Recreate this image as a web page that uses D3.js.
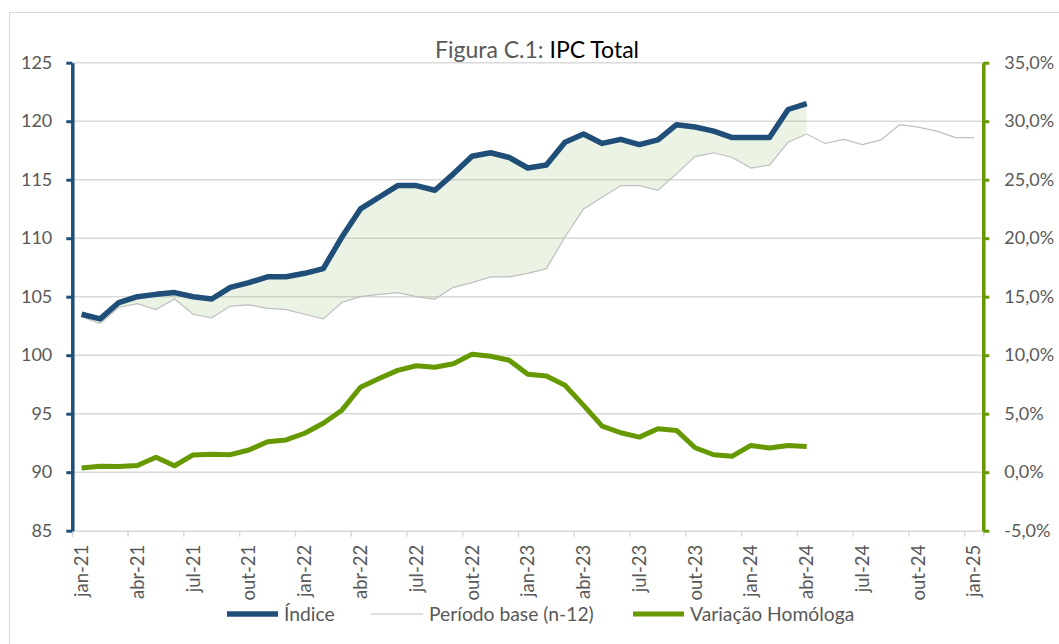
<!DOCTYPE html>
<html><head><meta charset="utf-8">
<script src="https://cdn.jsdelivr.net/npm/d3@7"></script>
<style>
html,body{margin:0;padding:0;background:#fff;}
text{font-family:Lato,"Open Sans",sans-serif;}
</style></head>
<body><svg id="c" width="1059" height="644"></svg>
<script>
// ---- data ----
const months = ["jan-21","fev-21","mar-21","abr-21","mai-21","jun-21","jul-21","ago-21","set-21","out-21","nov-21","dez-21",
"jan-22","fev-22","mar-22","abr-22","mai-22","jun-22","jul-22","ago-22","set-22","out-22","nov-22","dez-22",
"jan-23","fev-23","mar-23","abr-23","mai-23","jun-23","jul-23","ago-23","set-23","out-23","nov-23","dez-23",
"jan-24","fev-24","mar-24","abr-24","mai-24","jun-24","jul-24","ago-24","set-24","out-24","nov-24","dez-24",
"jan-25"];
const tickLabels = ["jan-21","abr-21","jul-21","out-21","jan-22","abr-22","jul-22","out-22","jan-23","abr-23","jul-23","out-23","jan-24","abr-24","jul-24","out-24","jan-25"];
const indice = [103.5,103.1,104.5,105.0,105.2,105.35,105.0,104.8,105.8,106.2,106.7,106.7,
107.0,107.4,110.1,112.5,113.5,114.5,114.5,114.1,115.5,117.0,117.3,116.9,
116.0,116.25,118.2,118.9,118.1,118.45,118.0,118.4,119.7,119.5,119.15,118.6,
118.6,118.6,121.0,121.5];
const periodoBase = [103.3,102.7,104.1,104.4,103.9,104.8,103.5,103.2,104.2,104.3,104.0,103.9,
103.5,103.1,104.5,105.0,105.2,105.35,105.0,104.8,105.8,106.2,106.7,106.7,
107.0,107.4,110.1,112.5,113.5,114.5,114.5,114.1,115.5,117.0,117.3,116.9,
116.0,116.25,118.2,118.9,118.1,118.45,118.0,118.4,119.7,119.5,119.15,118.6,
118.6];
const variacao = [0.35,0.5,0.48,0.58,1.28,0.55,1.48,1.54,1.5,1.9,2.6,2.76,
3.33,4.19,5.3,7.26,8.0,8.7,9.1,8.97,9.27,10.09,9.91,9.57,
8.37,8.23,7.43,5.71,3.94,3.37,3.0,3.72,3.57,2.09,1.49,1.37,
2.29,2.06,2.29,2.2];
const leftTicks = [85,90,95,100,105,110,115,120,125];
const rightTicks = [-5,0,5,10,15,20,25,30,35];

// ---- layout ----
const svg = d3.select("#c");
const L = 72.3, R = 983.3, T = 62.7, B = 530.7;
const blue = "#1f4e79", green = "#669900", grey = "#595959", gridC = "#d9d9d9";
const FONT = "Lato";

svg.append("rect").attr("x",9.5).attr("y",12.5).attr("width",1200).attr("height",800)
  .attr("fill","#fff").attr("stroke","#d9d9d9").attr("stroke-width",1);

const x = d3.scaleBand().domain(months).range([L,R]).padding(0);
const cx = m => x(m) + x.bandwidth()/2;
const yL = d3.scaleLinear().domain([85,125]).range([B,T]);
const yR = d3.scaleLinear().domain([-5,35]).range([B,T]);

// gridlines
svg.append("g").selectAll("line").data(leftTicks.filter(d=>d>85)).join("line")
  .attr("x1",L).attr("x2",R).attr("y1",d=>yL(d)).attr("y2",d=>yL(d))
  .attr("stroke",gridC).attr("stroke-width",1.5);

// x axis
const xAxis = d3.axisBottom(x).tickValues(months.filter(m=>tickLabels.includes(m))).tickSize(6).tickFormat(d=>d);
const gx = svg.append("g").attr("transform",`translate(0,${B})`).call(xAxis);
gx.select(".domain").attr("stroke",gridC).attr("stroke-width",1.5);
gx.selectAll(".tick").attr("transform",d=>`translate(${x(d)},0)`);
gx.selectAll(".tick line").attr("stroke",gridC).attr("stroke-width",1.5);
gx.selectAll(".tick text")
  .attr("fill",grey).attr("font-size",18.5).attr("font-family",FONT)
  .attr("text-anchor","end")
  .attr("transform",`translate(${x.bandwidth()/2},14) rotate(-90)`)
  .attr("x",0).attr("y",0).attr("dy","0.35em");

// area between index and base
const area = d3.area()
  .x((d,i)=>cx(months[i]))
  .y0((d,i)=>yL(periodoBase[i]))
  .y1(d=>yL(d));
svg.append("path").datum(indice).attr("d",area)
  .attr("fill","#70ad47").attr("fill-opacity",0.14);

// base line
svg.append("path").datum(periodoBase)
  .attr("d",d3.line().x((d,i)=>cx(months[i])).y(d=>yL(d)))
  .attr("fill","none").attr("stroke","#bfbfbf").attr("stroke-width",1.2);

// variação
svg.append("path").datum(variacao)
  .attr("d",d3.line().x((d,i)=>cx(months[i])).y(d=>yR(d)))
  .attr("fill","none").attr("stroke",green).attr("stroke-width",5).attr("stroke-linejoin","round");

// indice
svg.append("path").datum(indice)
  .attr("d",d3.line().x((d,i)=>cx(months[i])).y(d=>yL(d)))
  .attr("fill","none").attr("stroke",blue).attr("stroke-width",5.5).attr("stroke-linejoin","round");

// left axis
const gl = svg.append("g").attr("transform",`translate(${L},0)`)
  .call(d3.axisLeft(yL).tickValues(leftTicks).tickSize(6).tickSizeOuter(0).tickFormat(d3.format("d")));
gl.select(".domain").attr("stroke",blue).attr("stroke-width",3.5);
gl.selectAll(".tick line").attr("stroke",blue).attr("stroke-width",3);
gl.selectAll(".tick text").attr("fill",grey).attr("font-size",18).attr("font-family",FONT).attr("x",-20);

// right axis
const fmtR = d => d3.format(".1f")(d).replace(".",",").replace("\u2212","-") + "%";
const gr = svg.append("g").attr("transform",`translate(${R},0)`)
  .call(d3.axisRight(yR).tickValues(rightTicks).tickSize(6).tickSizeOuter(0).tickFormat(fmtR));
gr.select(".domain").attr("stroke",green).attr("stroke-width",3.5);
gr.selectAll(".tick line").attr("stroke",green).attr("stroke-width",3);
gr.selectAll(".tick text").attr("fill",grey).attr("font-size",18).attr("font-family",FONT).attr("x",21);

// title
const title = svg.append("text").attr("x",537).attr("y",58).attr("text-anchor","middle")
  .attr("font-size",23).attr("font-family",FONT);
title.append("tspan").attr("fill",grey).text("Figura C.1: ");
title.append("tspan").attr("fill","#000").text("IPC Total");

// legend
const lg = svg.append("g");
const items = [
  {name:"Índice", x1:227, x2:278, color:blue, w:5.5},
  {name:"Período base (n-12)", x1:371, x2:423, color:"#bfbfbf", w:1.2},
  {name:"Variação Homóloga", x1:633, x2:684, color:green, w:5}
];
const ly = 614;
items.forEach(it=>{
  lg.append("line").attr("x1",it.x1).attr("x2",it.x2).attr("y1",ly).attr("y2",ly)
    .attr("stroke",it.color).attr("stroke-width",it.w);
  lg.append("text").attr("x",it.x2+6).attr("y",ly).attr("dy","0.35em")
    .attr("fill",grey).attr("font-size",19.3).attr("font-family",FONT).text(it.name);
});
</script></body></html>
